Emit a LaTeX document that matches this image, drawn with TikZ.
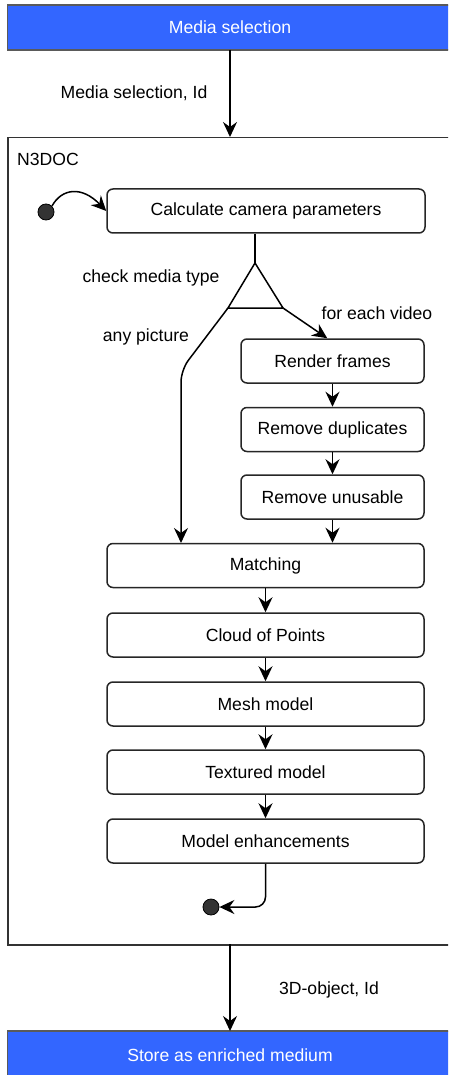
\documentclass[tikz,border=0pt]{standalone}
\usepackage{fontspec}
\setmainfont{Liberation Sans}
\usetikzlibrary{arrows.meta,calc}
\definecolor{selblue}{HTML}{3366FF}
\definecolor{edgegray}{HTML}{5A5A5A}
\definecolor{dotgray}{HTML}{333333}
\tikzset{
  every node/.style={font=\fontsize{17.6}{21}\selectfont},
  bluebox/.style={rectangle, fill=selblue, draw=edgegray, line width=1.2pt, text=white, minimum width=466pt, minimum height=45pt, inner sep=0pt},
  framebox/.style={rectangle, draw=dotgray, line width=1.5pt, minimum width=466pt, minimum height=807pt, inner sep=0pt},
  stepbox/.style={rectangle, rounded corners=6pt, draw=black!85, line width=1.5pt, fill=white, minimum height=44pt, inner sep=0pt},
  widebox/.style={stepbox, minimum width=317pt},
  subbox/.style={stepbox, minimum width=183pt},
  dotnode/.style={circle, fill=dotgray, draw=black, line width=0.8pt, minimum size=16pt, inner sep=0pt},
  flow/.style={line width=1.5pt, -{Stealth[length=15pt,width=14pt,inset=5pt]}},
  plainline/.style={line width=1.5pt},
  lbl/.style={inner sep=0pt}
}
\begin{document}
\begin{tikzpicture}[x=1pt,y=-1pt]
\useasboundingbox (0,0) rectangle (448,1075);
\clip (0,0) rectangle (448,1075);

% top and bottom
\node[bluebox, anchor=west] (top) at (7,27.5) {};
\node[text=white] (toptxt) at (230,27.5) {Media selection};
\node[bluebox, anchor=west] (bottom) at (7,1053.5) {};
\node[text=white] (bottxt) at (230,1055) {Store as enriched medium};

% frame
\node[framebox, anchor=north west] (frame) at (7,137) {};
\node[lbl, anchor=west] (ttl) at (17,159) {N3DOC};

% steps
\node[dotnode] (start) at (46,212) {};
\node[stepbox, minimum width=318pt] (calc) at (266,211) {Calculate camera parameters};
\node[subbox] (render) at (332.5,361) {Render frames};
\node[subbox] (dup) at (332.5,429.5) {Remove duplicates};
\node[subbox] (unus) at (332.5,497) {Remove unusable};
\node[widebox] (match) at (265.5,565.5) {Matching};
\node[widebox] (cloud) at (265.5,635) {Cloud of Points};
\node[widebox] (mesh) at (265.5,704) {Mesh model};
\node[widebox] (tex) at (265.5,772) {Textured model};
\node[widebox] (enh) at (265.5,841) {Model enhancements};
\node[dotnode] (stop) at (211,907) {};

% triangle
\coordinate (tritop) at (255,263);
\coordinate (tril) at (228,308);
\coordinate (trir) at (283,308);
\draw[plainline, line join=miter] (tritop) -- (tril) -- (trir) -- cycle;

% labels
\node[lbl] (l1) at (134,93) {Media selection, Id};
\node[lbl] (l2) at (329,990) {3D-object, Id};
\node[lbl] (l3) at (151,278) {check media type};
\node[lbl] (l4) at (377,313) {for each video};
\node[lbl] (l5) at (146,337) {any picture};

% connectors
\coordinate (topout) at (230,50);
\coordinate (framein) at (230,137);
\coordinate (frameout) at (230,944);
\coordinate (botin) at (230,1031);
\draw[flow] (topout) -- (framein);
\draw[flow] (frameout) -- (botin);
\draw[flow] (start.north east) .. controls (62,188) and (82,186) .. (calc.west);
\draw[plainline] (tritop |- calc.south) -- (tritop);
\coordinate (rin) at ($(render.north west)+(87,0)$);
\draw[flow] (trir) -- (rin);
\draw[flow, rounded corners=12pt] (tril) -- (181,370) -- (181,543);
\draw[flow] (render.south) -- (dup.north);
\draw[flow] (dup.south) -- (unus.north);
\draw[flow] (unus.south) -- (unus.south |- match.north);
\draw[flow] (match.south) -- (cloud.north);
\draw[flow] (cloud.south) -- (mesh.north);
\draw[flow] (mesh.south) -- (tex.north);
\draw[flow] (tex.south) -- (enh.north);
\draw[flow, rounded corners=10pt] (enh.south) -- (enh.south |- stop) -- (stop.east);
\end{tikzpicture}
\end{document}
